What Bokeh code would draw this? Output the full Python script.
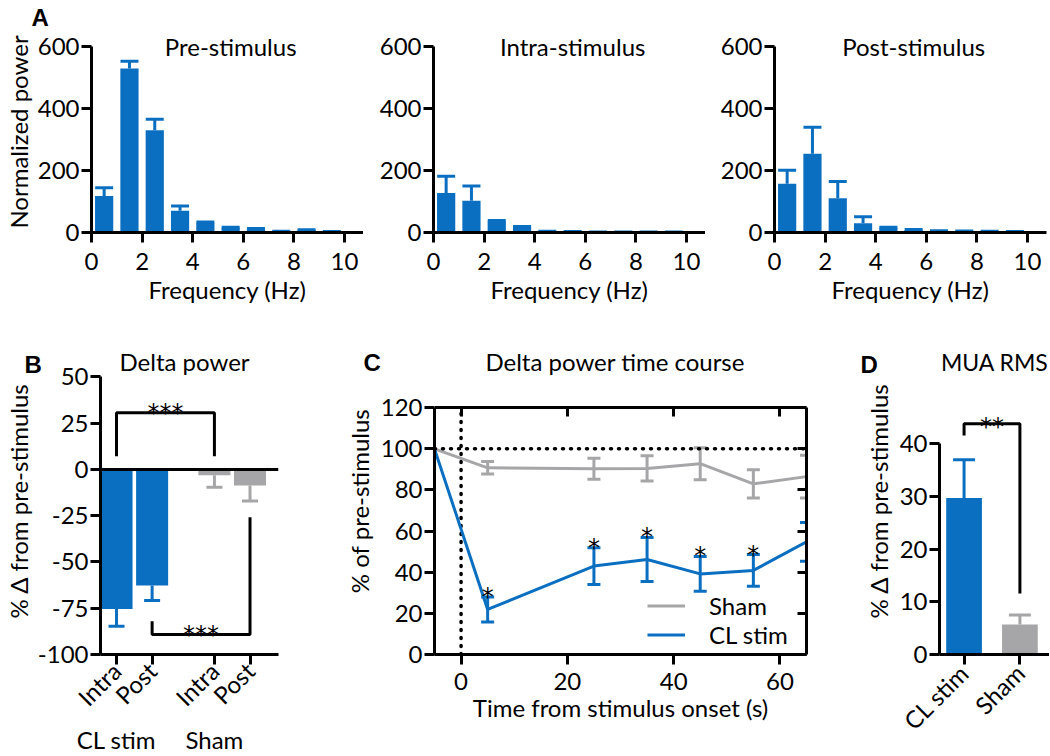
import math
from bokeh.plotting import figure
from bokeh.layouts import column, row
from bokeh.models import (Range1d, FixedTicker, Label, Whisker, ColumnDataSource,
                          Span, LinearAxis, Legend, LegendItem, TeeHead)
from bokeh.embed import file_html
from bokeh.resources import INLINE
from bokeh.core.properties import value

# ---------------- data ----------------
freq_bins = [0.5, 1.5, 2.5, 3.5, 4.5, 5.5, 6.5, 7.5, 8.5, 9.5]
freq_ticks = [0, 2, 4, 6, 8, 10]
power_ticks = [0, 200, 400, 600]

pre_power = [118, 530, 331, 70, 31, 15, 11, 3, 8, 2]
pre_sem = [27, 24, 35, 16, 3, 2, 2, 1, 1, 1]
intra_power = [128, 103, 36, 17, 3, 2, 1, 1, 1, 1]
intra_sem = [54, 47, 3, 2, 1, 1, 1, 1, 1, 1]
post_power = [158, 255, 111, 30, 15, 8, 5, 4, 3, 2]
post_sem = [43, 85, 54, 21, 2, 2, 1, 1, 1, 1]

delta_groups = ["CL stim", "Sham"]
delta_conditions = ["Intra", "Post"]
delta_cl = [-75.4, -62.7]
delta_cl_sem = [9.3, 8.1]
delta_sham = [-3.2, -8.7]
delta_sham_sem = [6.4, 8.4]
delta_ticks = [-100, -75, -50, -25, 0, 25, 50]
delta_tick_labels = ["-100", "-75", "-50", "-25", "0", "25", "50"]
bracket_intra = [7.2, 30.6]          # arm start, bar level (CL Intra vs Sham Intra)
bracket_post = [-82.0, -89.2, -25.8]  # CL arm start, bar level, Sham arm start

time_s = [-5, 5, 25, 35, 45, 55, 65]
sham_pct = [100, 90.8, 90.3, 90.5, 92.8, 83.0, 86.5]
sham_sem = [0, 3.0, 5.1, 6.1, 7.8, 6.9, 10.4]
cl_pct = [100, 21.9, 43.0, 46.2, 39.2, 40.9, 54.8]
cl_sem = [0, 6.1, 8.9, 10.7, 8.5, 7.7, 9.4]
sig_times = [5, 25, 35, 45, 55]
onset_s = 0
baseline_pct = 100
time_ticks = [0, 20, 40, 60]
pct_ticks = [0, 20, 40, 60, 80, 100, 120]

mua_groups = ["CL stim", "Sham"]
mua_rms = [29.7, 5.7]
mua_sem = [7.3, 1.8]
mua_ticks = [0, 10, 20, 30, 40]
bracket_mua = [41.6, 43.8, 11.6]

# ---------------- style ----------------
FONT = "Lato"
FS = "24px"
STAR_FONT = "DejaVu Sans"
BLUE = "#0B6FC1"
GRAY = "#A6A6A8"
BLACK = "#000000"


def style_axis(ax, tick_out=10):
    ax.axis_line_width = 3
    ax.axis_line_color = BLACK
    ax.major_tick_line_width = 3
    ax.major_tick_line_color = BLACK
    ax.major_tick_out = tick_out
    ax.major_tick_in = 0
    ax.minor_tick_line_color = None
    ax.major_label_text_font = FONT
    ax.major_label_text_font_size = FS
    ax.major_label_text_color = BLACK
    ax.major_label_standoff = 2
    ax.axis_label_text_font = FONT
    ax.axis_label_text_font_size = FS
    ax.axis_label_text_font_style = "normal"
    ax.axis_label_text_color = BLACK
    ax.axis_label_standoff = 2


def base_fig(fw, fh, xr, yr, bl, bt, bb, br=0):
    p = figure(frame_width=fw, frame_height=fh, x_range=xr, y_range=yr,
               min_border_left=bl, min_border_top=bt, min_border_bottom=bb,
               min_border_right=br, output_backend="svg", toolbar_location=None,
               tools="")
    p.grid.grid_line_color = None
    p.outline_line_color = None
    for ax in p.axis:
        style_axis(ax)
    return p


def panel_letter(p, txt, offset, standoff):
    t = p.title
    t.text = txt
    t.align = "left"
    t.offset = offset
    t.standoff = standoff
    t.text_font = "Liberation Sans"
    t.text_font_size = "24px"
    t.text_font_style = "bold"
    t.text_color = BLACK


def panel_title(p, txt, x, y, size=FS):
    p.add_layout(Label(x=x, y=y, text=txt, text_align="center",
                       text_baseline="middle", text_font=FONT,
                       text_font_size=size, text_color=BLACK))


def hist_panel(power, sem, title, bl, ylabel=None):
    p = base_fig(272, 201, Range1d(0, 10.75), Range1d(0, 650), bl, 31, 80)
    src = ColumnDataSource(dict(f=freq_bins, top=power,
                                up=[a + b for a, b in zip(power, sem)]))
    p.vbar(x="f", top="top", width=0.72, source=src, fill_color=BLUE,
           line_color=None)
    p.add_layout(Whisker(base="f", lower="top", upper="up", source=src,
                         dimension="height", line_color=BLUE, line_width=3,
                         upper_head=TeeHead(size=18, line_color=BLUE, line_width=3),
                         lower_head=None))
    p.xaxis.ticker = FixedTicker(ticks=freq_ticks)
    p.yaxis.ticker = FixedTicker(ticks=power_ticks)
    p.yaxis.bounds = (0, 600)
    p.xaxis.axis_label = "Frequency (Hz)"
    p.xaxis.major_label_standoff = 10
    p.xaxis.axis_label_standoff = 2
    if ylabel:
        p.yaxis.axis_label = ylabel
    panel_title(p, title, 5.5, 600)
    return p


a1 = hist_panel(pre_power, pre_sem, "Pre-stimulus", 88, "Normalized power")
a2 = hist_panel(intra_power, intra_sem, "Intra-stimulus", 70)
a3 = hist_panel(post_power, post_sem, "Post-stimulus", 69)
a3.min_border_right = 6
panel_letter(a1, "A", -60, 2)

ROW2_TOP = 35
ROW2_FRAME_H = 307
ROW2_BOTTOM = 100

# ---------------- B: delta power ----------------
group_gap = 1.75
pos_cl = [0.0, 1.0]
pos_sham = [p + group_gap + 1 for p in pos_cl]
b = base_fig(178, ROW2_FRAME_H, Range1d(-0.45, 4.55), Range1d(-100, 65.9),
             100, ROW2_TOP, ROW2_BOTTOM, 5)
src_cl = ColumnDataSource(dict(x=pos_cl, top=delta_cl,
                               low=[v - s for v, s in zip(delta_cl, delta_cl_sem)]))
src_sh = ColumnDataSource(dict(x=pos_sham, top=delta_sham,
                               low=[v - s for v, s in zip(delta_sham, delta_sham_sem)]))
for src, col in ((src_cl, BLUE), (src_sh, GRAY)):
    b.vbar(x="x", top="top", bottom=0, width=0.9, source=src, fill_color=col,
           line_color=None)
    b.add_layout(Whisker(base="x", lower="low", upper="top", source=src,
                         dimension="height", line_color=col, line_width=3,
                         lower_head=TeeHead(size=16, line_color=col, line_width=3),
                         upper_head=None))
b.add_layout(Span(location=0, dimension="width", line_color=BLACK, line_width=3))
all_pos = pos_cl + pos_sham
b.xaxis.ticker = FixedTicker(ticks=all_pos)
b.xaxis.major_label_overrides = {p: c for p, c in zip(all_pos, delta_conditions * 2)}
b.xaxis.major_label_orientation = math.pi / 4
b.xaxis.major_label_standoff = 2
b.yaxis.ticker = FixedTicker(ticks=delta_ticks)
b.yaxis.major_label_overrides = dict(zip(delta_ticks, delta_tick_labels))
b.yaxis.bounds = (-100, 50)
b.yaxis.axis_label = "% \u0394 from pre-stimulus"
grp_ticks = [pos_cl[0], pos_sham[0]]
gax = LinearAxis(ticker=FixedTicker(ticks=grp_ticks),
                 major_label_overrides={c: g for c, g in zip(grp_ticks, delta_groups)})
style_axis(gax, 0)
gax.axis_line_color = None
gax.major_tick_line_color = None
gax.major_label_standoff = 0
b.add_layout(gax, "below")
b.line(x=[pos_cl[0], pos_cl[0], pos_sham[0], pos_sham[0]],
       y=[bracket_intra[0], bracket_intra[1], bracket_intra[1], bracket_intra[0]],
       line_color=BLACK, line_width=3)
b.line(x=[pos_cl[1], pos_cl[1], pos_sham[1], pos_sham[1]],
       y=[bracket_post[0], bracket_post[1], bracket_post[1], bracket_post[2]],
       line_color=BLACK, line_width=3)
b.text(x=[(pos_cl[0] + pos_sham[0]) / 2, (pos_cl[1] + pos_sham[1]) / 2],
       y=[bracket_intra[1], bracket_post[1]], text=["***", "***"],
       text_align="center", text_baseline="alphabetic", text_font=value(STAR_FONT),
       text_font_size=FS, text_color=BLACK)
panel_title(b, "Delta power", 1.91, 58.3)
panel_letter(b, "B", -76, -60)

# ---------------- C: time course ----------------
c = base_fig(372, ROW2_FRAME_H, Range1d(-5, 65), Range1d(0, 149.3),
             151, ROW2_TOP, ROW2_BOTTOM, 5)
c.xaxis.ticker = FixedTicker(ticks=time_ticks)
c.yaxis.ticker = FixedTicker(ticks=pct_ticks)
c.yaxis.bounds = (pct_ticks[0], pct_ticks[-1])
c.xaxis.major_label_standoff = 8
c.xaxis.axis_label_standoff = 0
c.xaxis.axis_label = "Time from stimulus onset (s)"
c.yaxis.axis_label = "% of pre-stimulus"
c.yaxis.axis_label_standoff = 4
c.add_layout(Span(location=baseline_pct, dimension="width", line_color=BLACK,
                  line_width=3.5, line_dash="1 7", line_cap="round"))
c.line(x=[onset_s, onset_s], y=[pct_ticks[0], pct_ticks[-1]], line_color=BLACK,
       line_width=3.5, line_dash="1 7", line_cap="round")
renderers = {}
for name, vals, errs, col in (("Sham", sham_pct, sham_sem, GRAY),
                              ("CL stim", cl_pct, cl_sem, BLUE)):
    renderers[name] = c.line(time_s, vals, line_color=col, line_width=3)
    idx = [i for i, e in enumerate(errs) if e > 0]
    esrc = ColumnDataSource(dict(t=[time_s[i] for i in idx],
                                 lo=[vals[i] - errs[i] for i in idx],
                                 hi=[vals[i] + errs[i] for i in idx]))
    c.add_layout(Whisker(base="t", lower="lo", upper="hi", source=esrc,
                         dimension="height", line_color=col, line_width=3,
                         upper_head=TeeHead(size=13, line_color=col, line_width=3),
                         lower_head=TeeHead(size=13, line_color=col, line_width=3)))
sig_y = [cl_pct[time_s.index(t)] + cl_sem[time_s.index(t)] for t in sig_times]
c.text(x=sig_times, y=sig_y, text=["*"] * len(sig_times), text_align="center",
       text_baseline="alphabetic", text_font=value(STAR_FONT),
       text_font_size=FS, text_color=BLACK)
leg = Legend(items=[LegendItem(label="Sham", renderers=[renderers["Sham"]]),
                    LegendItem(label="CL stim", renderers=[renderers["CL stim"]])],
             location=(213, 5))
leg.label_text_font = FONT
leg.label_text_font_size = FS
leg.label_text_color = BLACK
leg.glyph_width = 38
leg.glyph_height = 25
leg.label_height = 25
leg.label_standoff = 24
leg.spacing = -4
leg.padding = 0
leg.margin = 0
leg.border_line_color = None
leg.background_fill_alpha = 0
c.add_layout(leg)
top_ax = LinearAxis(ticker=FixedTicker(ticks=time_ticks), fixed_location=pct_ticks[-1])
right_ax = LinearAxis(ticker=FixedTicker(ticks=pct_ticks),
                      bounds=(pct_ticks[0], pct_ticks[-1]))
for ax in (top_ax, right_ax):
    style_axis(ax, 0)
    ax.major_tick_in = 9
    ax.major_label_text_font_size = "0px"
    ax.major_label_text_color = None
    ax.major_label_standoff = 0
c.add_layout(top_ax, "above")
c.add_layout(right_ax, "right")
panel_title(c, "Delta power time course", 29, 142.5)
panel_letter(c, "C", -71, -56)

# ---------------- D: MUA RMS ----------------
pos_mua = [0.0, 1.0]
d = base_fig(110, ROW2_FRAME_H, Range1d(-0.44, 1.53), Range1d(0, 58.3),
             128, ROW2_TOP, ROW2_BOTTOM, 0)
src_m = ColumnDataSource(dict(x=pos_mua, top=mua_rms, col=[BLUE, GRAY]))
d.vbar(x="x", top="top", width=0.64, source=src_m, fill_color="col", line_color=None)
for i, col in enumerate((BLUE, GRAY)):
    s1 = ColumnDataSource(dict(x=[pos_mua[i]], lo=[mua_rms[i]], hi=[mua_rms[i] + mua_sem[i]]))
    d.add_layout(Whisker(base="x", lower="lo", upper="hi", source=s1,
                         dimension="height", line_color=col, line_width=3,
                         upper_head=TeeHead(size=22, line_color=col, line_width=3),
                         lower_head=None))
d.xaxis.ticker = FixedTicker(ticks=pos_mua)
d.xaxis.major_label_overrides = {p: g for p, g in zip(pos_mua, mua_groups)}
d.xaxis.major_label_orientation = math.pi / 4
d.xaxis.major_label_standoff = 4
d.yaxis.ticker = FixedTicker(ticks=mua_ticks)
d.yaxis.bounds = (mua_ticks[0], mua_ticks[-1])
d.yaxis.axis_label = "% \u0394 from pre-stimulus"
d.yaxis.axis_label_standoff = 4
d.line(x=[pos_mua[0], pos_mua[0], pos_mua[1], pos_mua[1]],
       y=[bracket_mua[0], bracket_mua[1], bracket_mua[1], bracket_mua[2]],
       line_color=BLACK, line_width=3)
d.text(x=[sum(pos_mua) / 2], y=[bracket_mua[1]], text=["**"], text_align="center",
       text_baseline="alphabetic", y_offset=3, text_font=value(STAR_FONT),
       text_font_size=FS, text_color=BLACK)
panel_title(d, "MUA RMS", 0.55, 55.6, "23px")
panel_letter(d, "D", -79, -60)

layout = column(row(a1, a2, a3), row(b, c, d))
open("out.html", "w").write(file_html(layout, INLINE))
